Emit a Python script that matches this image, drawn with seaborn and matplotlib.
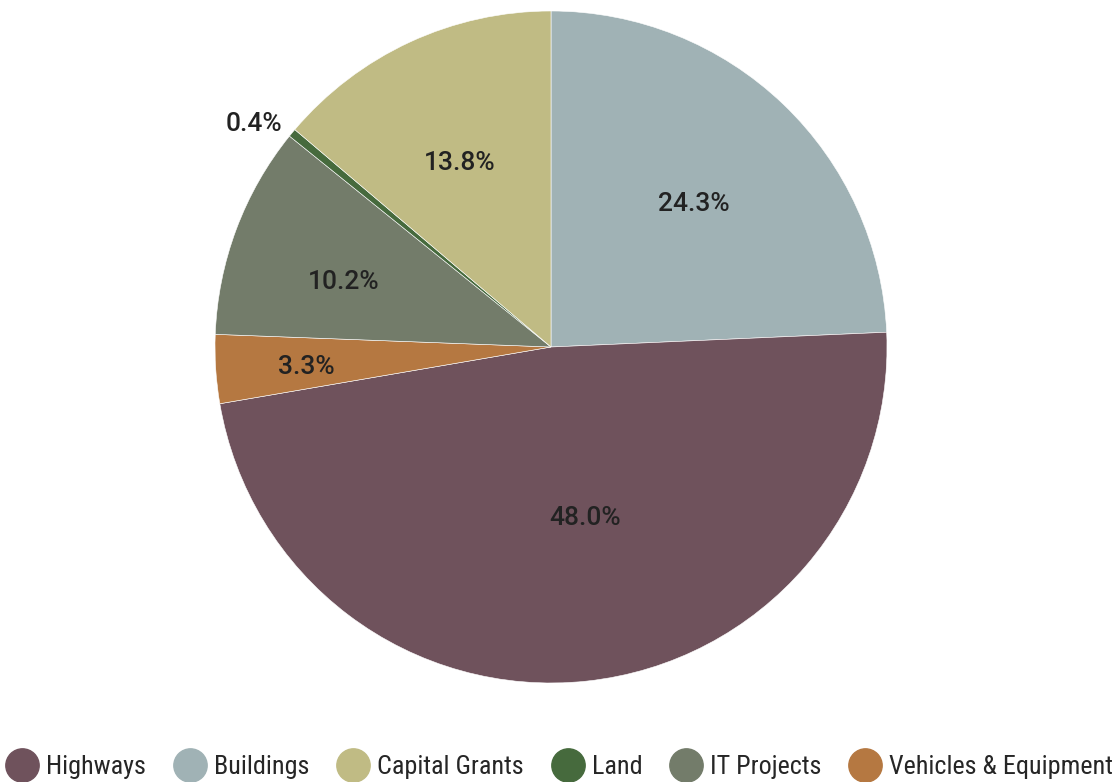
import numpy as np
import matplotlib
matplotlib.use("Agg")
import matplotlib.pyplot as plt
import matplotlib.transforms as mtransforms
from matplotlib.lines import Line2D
import seaborn as sns

sns.set_style("white")
plt.rcParams['font.family'] = ['Roboto', 'DejaVu Sans']

# slices clockwise from 12 o'clock
categories = ["Buildings", "Highways", "Vehicles & Equipment", "IT Projects", "Land", "Capital Grants"]
shares = [24.3, 48.0, 3.3, 10.2, 0.4, 13.8]
colors = ["#a0b2b5", "#6f525c", "#b57841", "#737c6a", "#466a3d", "#c0bb84"]
# label placement: distance (fraction of radius) and angle nudge in degrees
label_dist = [0.61, 0.51, 0.73, 0.65, 1.11, 0.62]
label_nudge = [-0.5, 5.4, 0.2, 2.2, 2.3, 1.2]

legend_order = ["Highways", "Buildings", "Capital Grants", "Land", "IT Projects", "Vehicles & Equipment"]

fig = plt.figure(figsize=(11.19, 7.82), dpi=100)
ax = fig.add_axes([215 / 1119, 99 / 782, 672 / 1119, 672 / 782])

wedges, _ = ax.pie(shares, colors=colors, startangle=90, counterclock=False,
                   wedgeprops=dict(linewidth=0.4, edgecolor="white"))
ax.set_xlim(-1, 1)
ax.set_ylim(-1, 1)
ax.set_aspect("equal")
ax.axis("off")

tr = mtransforms.offset_copy(ax.transData, fig=fig, x=0, y=-2.5, units="points")
for w, val, d, nd in zip(wedges, shares, label_dist, label_nudge):
    ang = np.deg2rad((w.theta1 + w.theta2) / 2 + nd)
    ax.text(d * np.cos(ang), d * np.sin(ang), f"{val:.1f}%", ha="center", va="center",
            fontsize=19, fontweight="medium", color="#222222", transform=tr)

# legend
cmap = dict(zip(categories, colors))
handles = [Line2D([], [], marker="o", linestyle="", markersize=24, markerfacecolor=cmap[c],
                  markeredgecolor=cmap[c]) for c in legend_order]
fig.legend(handles, legend_order, loc="center", bbox_to_anchor=(0.5, 1 - 767 / 782), ncol=6,
           frameon=False, handletextpad=0.3, columnspacing=1.05, handlelength=1.25,
           borderaxespad=0, borderpad=0,
           prop={'family': ['Roboto Condensed', 'Roboto'], 'size': 18.8})

fig.savefig("out.png", dpi=100)
